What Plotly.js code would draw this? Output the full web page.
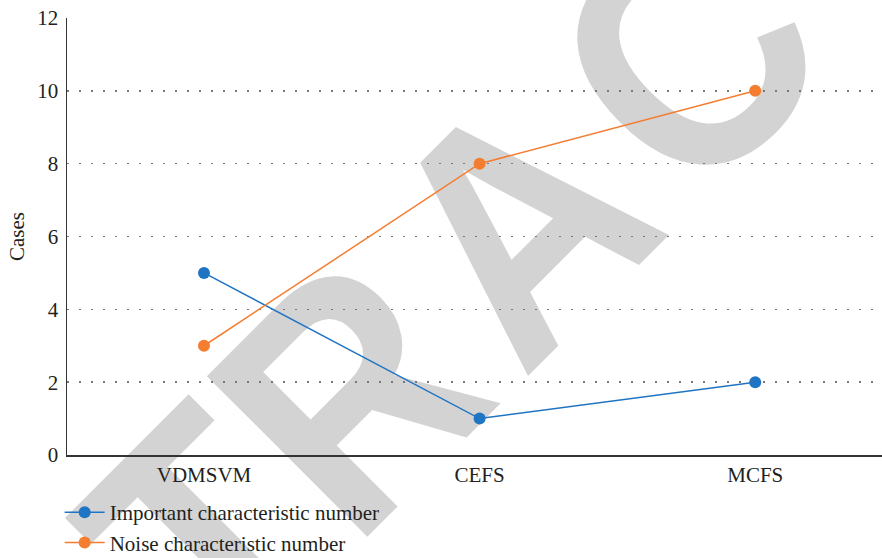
<!DOCTYPE html>
<html>
<head>
<meta charset="utf-8">
<script src="https://cdn.plot.ly/plotly-3.0.1.min.js"></script>
<style>
  html, body { margin: 0; padding: 0; background: #ffffff; }
  #wrap { position: relative; width: 882px; height: 558px; overflow: hidden; }
  #wm { position: absolute; left: 0; top: 0; z-index: 0; }
  #chart { position: absolute; left: 0; top: 0; width: 882px; height: 558px; z-index: 1; }
</style>
</head>
<body>
<div id="wrap">
  <svg id="wm" width="882" height="558" xmlns="http://www.w3.org/2000/svg">
    <text id="wmtext" x="0" y="0" text-anchor="middle" fill="#d3d3d3"
      font-family="Liberation Sans, Arial, sans-serif" font-weight="bold">RETRACTED</text>
  </svg>
  <div id="chart"></div>
</div>
<script>
// ---- data ----
const categories = ["VDMSVM", "CEFS", "MCFS"];
const importantValues = [5, 1, 2];
const noiseValues = [3, 8, 10];
const seriesNames = ["Important characteristic number", "Noise characteristic number"];
const yTickValues = [0, 2, 4, 6, 8, 10, 12];
const yTitle = "Cases";
const watermarkText = "RETRACTED";

// ---- watermark (real text, drawn behind the chart) ----
const wmSize = 330;
const wm = document.getElementById('wmtext');
wm.textContent = watermarkText;
wm.setAttribute('font-size', wmSize);
wm.setAttribute('letter-spacing', '28');
wm.setAttribute('dx', '0 0 25 -25');
wm.setAttribute('y', (0.358 * wmSize).toFixed(1));
wm.setAttribute('transform', 'translate(524,213) rotate(-45) scale(0.9,1)');

const serif = "Liberation Serif, Times New Roman, serif";
const blue = "#1f74c3";
const orange = "#f47d30";
const txt = '#231f20';

const traces = [
  {
    x: categories, y: importantValues, name: seriesNames[0],
    type: 'scatter', mode: 'lines+markers',
    line: { color: blue, width: 1.5 },
    marker: { color: blue, size: 12 }
  },
  {
    x: categories, y: noiseValues, name: seriesNames[1],
    type: 'scatter', mode: 'lines+markers',
    line: { color: orange, width: 1.5 },
    marker: { color: orange, size: 12 }
  }
];

const layout = {
  width: 882, height: 558,
  margin: { l: 67, r: 0, t: 18, b: 103, autoexpand: false },
  paper_bgcolor: 'rgba(0,0,0,0)',
  plot_bgcolor: 'rgba(0,0,0,0)',
  font: { family: serif, size: 21, color: txt },
  showlegend: true,
  legend: {
    orientation: 'v', x: -0.009, xanchor: 'left', y: -0.085, yanchor: 'top',
    font: { family: serif, size: 21, color: txt },
    bgcolor: 'rgba(0,0,0,0)', tracegroupgap: 0, itemwidth: 40
  },
  xaxis: {
    type: 'category', range: [-0.497, 2.46],
    showline: true, linecolor: '#333333', linewidth: 1.5,
    showgrid: false, zeroline: false, ticks: '',
    tickfont: { family: serif, size: 21, color: txt },
    fixedrange: true
  },
  yaxis: {
    range: [0, 12], tickvals: yTickValues,
    showline: true, linecolor: '#333333', linewidth: 1.5,
    showgrid: true, gridcolor: '#777777', gridwidth: 1.5, griddash: '1.5px,10.5px',
    zeroline: false, ticks: '', ticklabelstandoff: 3,
    tickfont: { family: serif, size: 21, color: txt },
    title: { text: yTitle, font: { family: serif, size: 21, color: txt }, standoff: 7 },
    fixedrange: true
  }
};

Plotly.newPlot('chart', traces, layout, { displayModeBar: false, staticPlot: true });
</script>
</body>
</html>
